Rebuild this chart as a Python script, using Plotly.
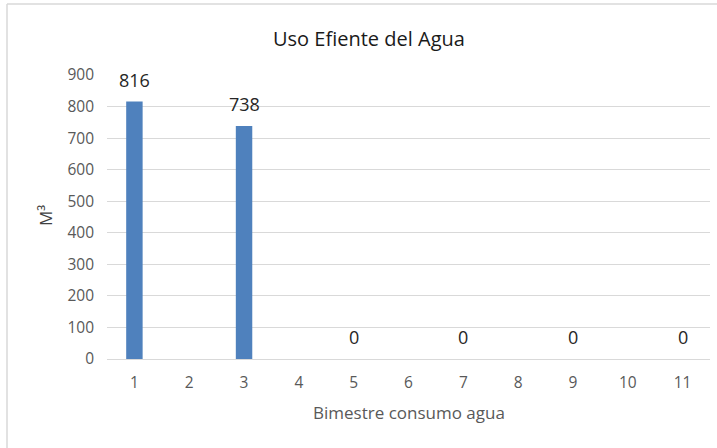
import plotly.graph_objects as go

bimestres = [1, 2, 3, 4, 5, 6, 7, 8, 9, 10, 11]
consumo_m3 = [816, None, 738, None, 0, None, 0, None, 0, None, 0]
titulo = "Uso Efiente del Agua"
x_titulo = "Bimestre consumo agua"
y_titulo = "M³"

FONT = "Open Sans, Liberation Sans, sans-serif"
L, R, T, B = 107, 7, 75, 89
W, H = 717, 448
PW, PH = W - L - R, H - T - B


def px(x):
    return (x - L) / PW


def py(y):
    return (H - B - y) / PH


fig = go.Figure()
fig.add_trace(go.Bar(
    x=bimestres,
    y=consumo_m3,
    width=0.3,
    marker=dict(color="#4f81bd", line=dict(width=0)),
    hoverinfo="x+y",
))

labels = [
    dict(x=b, y=v, xref="x", yref="y", text=str(v), showarrow=False,
         xanchor="center", yanchor="bottom", yshift=8,
         font=dict(family=FONT, size=18, color="#262626"))
    for b, v in zip(bimestres, consumo_m3) if v is not None
]

fig.update_layout(
    width=W, height=H,
    margin=dict(l=L, r=R, t=T, b=B, autoexpand=False),
    paper_bgcolor="white", plot_bgcolor="white",
    showlegend=False,
    font=dict(family=FONT),
    xaxis=dict(
        range=[0.5, 11.5], tickvals=bimestres, automargin=False,
        showgrid=False, showline=False, zeroline=False, ticks="",
        ticklabelstandoff=12,
        tickfont=dict(size=15.5, color="#595959"),
    ),
    yaxis=dict(
        range=[0, 900], dtick=100, automargin=False,
        showgrid=True, gridcolor="#d9d9d9", gridwidth=1,
        zeroline=True, zerolinecolor="#d9d9d9", zerolinewidth=1,
        showline=False, ticks="",
        ticklabelstandoff=12,
        tickfont=dict(size=15.5, color="#595959"),
    ),
    annotations=labels + [
        dict(text=titulo, xref="paper", yref="paper", x=px(369), y=py(38),
             xanchor="center", yanchor="middle", showarrow=False,
             font=dict(family=FONT, size=20, color="#1a1a1a")),
        dict(text=x_titulo, xref="paper", yref="paper", x=px(409), y=py(412),
             xanchor="center", yanchor="middle", showarrow=False,
             font=dict(family=FONT, size=17, color="#595959")),
        dict(text=y_titulo, xref="paper", yref="paper", x=px(45), y=py(216),
             xanchor="center", yanchor="middle", showarrow=False, textangle=-90,
             font=dict(family=FONT, size=17, color="#404040")),
    ],
    shapes=[
        dict(type="line", xref="paper", yref="paper",
             x0=px(7), x1=px(7), y0=py(4), y1=py(448),
             line=dict(color="#d9d9d9", width=1.5)),
        dict(type="line", xref="paper", yref="paper",
             x0=px(7), x1=px(717), y0=py(4), y1=py(4),
             line=dict(color="#d9d9d9", width=1.5)),
    ],
)

fig.write_html("out.html", config={"displayModeBar": False},
               post_script="document.body.style.margin='0';")
